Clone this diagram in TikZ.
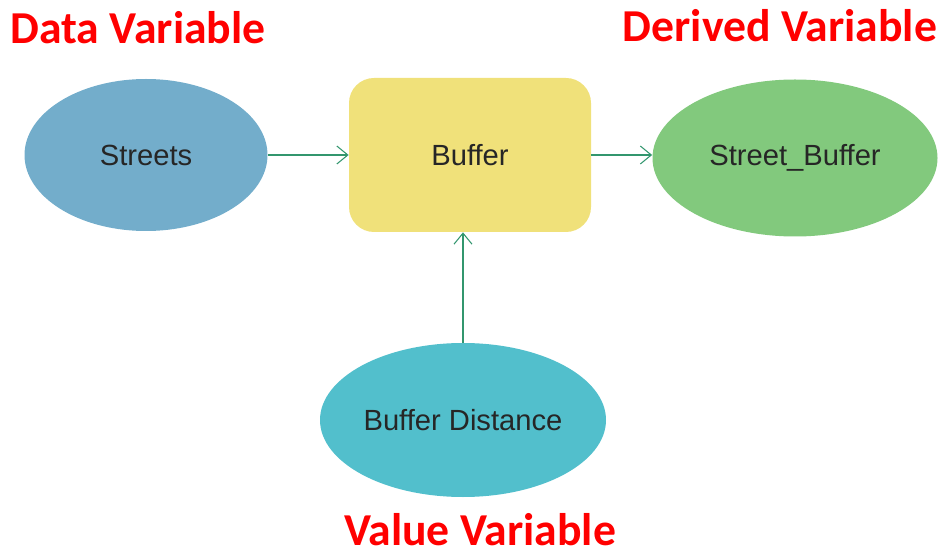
\documentclass[tikz,border=0pt]{standalone}
\usepackage{fontspec}
\setmainfont{Liberation Sans}
\newfontfamily\labelfont{Carlito}
\usepackage{xcolor}
\usepackage{tikz}
\usetikzlibrary{shapes.geometric, arrows.meta, positioning}
\definecolor{streetblue}{RGB}{115,173,203}
\definecolor{toolyellow}{RGB}{240,225,122}
\definecolor{derivgreen}{RGB}{130,201,125}
\definecolor{valuecyan}{RGB}{82,191,204}
\definecolor{linkgreen}{RGB}{50,150,110}
\tikzstyle{arrow} = [line width=0.6pt, draw=linkgreen, -{Straight Barb[length=2.2mm,width=3.6mm]}]
\tikzstyle{varnode} = [ellipse, inner sep=0pt, text centered, font=\fontsize{16.6}{19}\selectfont, text=black!85]
\tikzstyle{toolnode} = [rectangle, rounded corners=0.5cm, minimum width=4.84cm, minimum height=3.08cm, text centered, fill=toolyellow, font=\fontsize{16.6}{19}\selectfont, text=black!85]
\tikzstyle{kindlabel} = [text=red, font=\labelfont\bfseries\fontsize{26}{30}\selectfont]

\begin{document}
\begin{tikzpicture}[node distance=6.5cm]
\useasboundingbox (0,0) rectangle (18.94,-11.18);

% Model elements
\node (streets) [varnode, fill=streetblue, minimum width=4.86cm, minimum height=3.04cm] at (2.92,-3.1) {Streets};
\node (buffer) [toolnode, right of=streets, xshift=-0.02cm] {Buffer};
\node (streetbuffer) [varnode, fill=derivgreen, minimum width=5.7cm, minimum height=3.14cm, right of=buffer, yshift=-0.06cm] {Street\_Buffer};
\node (distance) [varnode, fill=valuecyan, minimum width=5.72cm, minimum height=3.08cm, below of=buffer, yshift=1.2cm, xshift=-0.14cm] {Buffer Distance};

% Arrows
\draw [arrow] (streets) -- (buffer);
\draw [arrow] (buffer) -- (buffer -| streetbuffer.west);
\draw [arrow] (distance.north) -- (distance.north |- buffer.south);

% Variable kinds
\node (datalabel) [kindlabel] at (2.76,-0.56) {Data Variable};
\node (derivedlabel) [kindlabel] at (15.6,-0.52) {Derived Variable};
\node (valuelabel) [kindlabel] at (9.6,-10.6) {Value Variable};

\end{tikzpicture}
\end{document}
